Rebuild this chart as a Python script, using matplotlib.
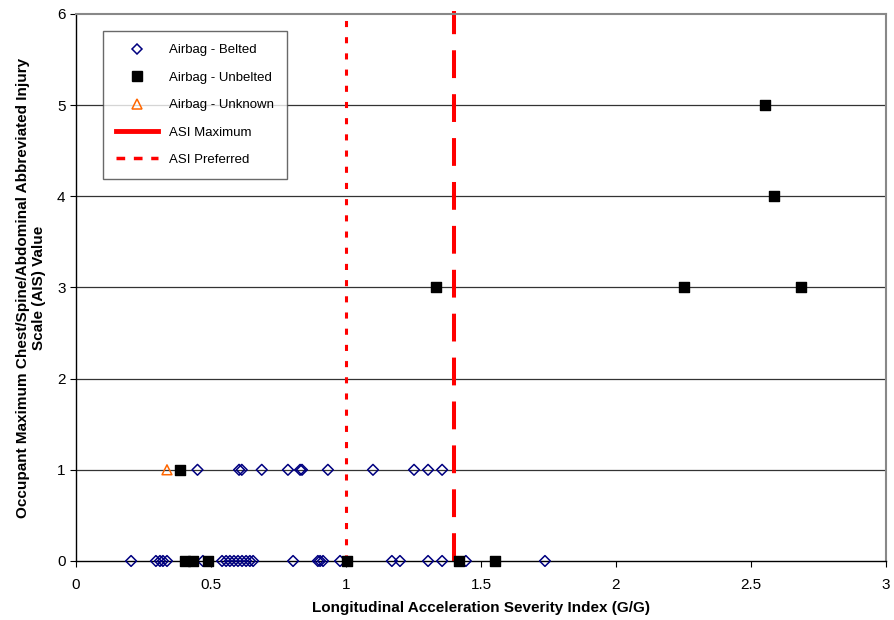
import numpy as np
import matplotlib
matplotlib.use("Agg")
import matplotlib.pyplot as plt
from matplotlib.lines import Line2D

plt.rcParams['font.family'] = ['Liberation Sans', 'DejaVu Sans']

# Airbag - Belted (ASI, AIS)
belted_x = [0.204, 0.296, 0.311, 0.322, 0.337, 0.47, 0.541, 0.556, 0.570, 0.585,
            0.600, 0.615, 0.630, 0.644, 0.656, 0.804, 0.896, 0.904, 0.915, 0.978,
            1.170, 1.200, 1.304, 1.356, 1.444, 1.737,
            0.45, 0.604, 0.614, 0.688, 0.785, 0.830, 0.837, 0.933, 1.100, 1.252,
            1.304, 1.356]
belted_y = [0] * 26 + [1] * 12

# Airbag - Unbelted
unbelted_x = [0.404, 0.433, 0.489, 1.004, 1.419, 1.552, 0.385,
              1.333, 2.252, 2.685, 2.585, 2.552]
unbelted_y = [0, 0, 0, 0, 0, 0, 1, 3, 3, 3, 4, 5]

# Airbag - Unknown
unknown_x = [0.337]
unknown_y = [1]

asi_max = 1.4
asi_pref = 1.0

fig = plt.figure(figsize=(8.94, 6.2), dpi=100)
ax = fig.add_axes([0.085, 0.0952, 0.906, 0.8823])

for yv in [1, 2, 3, 4, 5]:
    ax.axhline(yv, color='#333333', linewidth=0.9, zorder=0)

ax.plot([asi_pref, asi_pref], [0, 6.0], color='#FF0000', linewidth=2.2,
        dashes=(2, 3.3), zorder=2, clip_on=False)
ax.plot([asi_max, asi_max], [0, 6.03], color='#FF0000', linewidth=2.9,
        dashes=(6.9, 4), zorder=2, clip_on=False)

ax.scatter(belted_x, belted_y, marker='D', s=30, facecolors='none',
           edgecolors='#000080', linewidths=1.1, zorder=3, clip_on=False)
ax.scatter(unbelted_x, unbelted_y, marker='s', s=55, color='black',
           zorder=4, clip_on=False)
ax.scatter(unknown_x, unknown_y, marker='^', s=50, facecolors='none',
           edgecolors='#FF6600', linewidths=1.1, zorder=4, clip_on=False)

ax.set_xlim(0, 3)
ax.set_ylim(0, 6)
ax.set_xticks([0, 0.5, 1, 1.5, 2, 2.5, 3])
ax.set_xticklabels(['0', '0.5', '1', '1.5', '2', '2.5', '3'])
ax.set_yticks([0, 1, 2, 3, 4, 5, 6])
ax.tick_params(axis='both', labelsize=11, direction='out', length=4, width=0.8,
               color='black')
ax.tick_params(axis='x', pad=8)

for side in ['top', 'right']:
    ax.spines[side].set_color('#888888')
    ax.spines[side].set_linewidth(1.5)
for side in ['left', 'bottom']:
    ax.spines[side].set_color('black')
    ax.spines[side].set_linewidth(1.0)

ax.set_xlabel('Longitudinal Acceleration Severity Index (G/G)',
              fontsize=11, fontweight='bold', labelpad=7)
ax.set_ylabel('Occupant Maximum Chest/Spine/Abdominal Abbreviated Injury\n'
              'Scale (AIS) Value', fontsize=11, fontweight='bold', labelpad=8)

handles = [
    Line2D([], [], linestyle='none', marker='D', markersize=5,
           markerfacecolor='none', markeredgecolor='#000080', markeredgewidth=1.1),
    Line2D([], [], linestyle='none', marker='s', markersize=7, color='black'),
    Line2D([], [], linestyle='none', marker='^', markersize=7,
           markerfacecolor='none', markeredgecolor='#FF6600', markeredgewidth=1.1),
    Line2D([], [], color='#FF0000', linewidth=3.5),
    Line2D([], [], color='#FF0000', linewidth=2.5, dashes=(2.5, 2.5)),
]
labels = ['Airbag - Belted', 'Airbag - Unbelted', 'Airbag - Unknown',
          'ASI Maximum', 'ASI Preferred']
leg = ax.legend(handles, labels, loc='upper left', bbox_to_anchor=(0.033, 0.969),
                borderaxespad=0, fontsize=9.5, frameon=True, fancybox=False,
                edgecolor='#444444', labelspacing=1.15, handlelength=3.2,
                borderpad=1.0, handletextpad=0.8)
leg.get_frame().set_linewidth(1.0)

fig.savefig('out.png', dpi=100)
